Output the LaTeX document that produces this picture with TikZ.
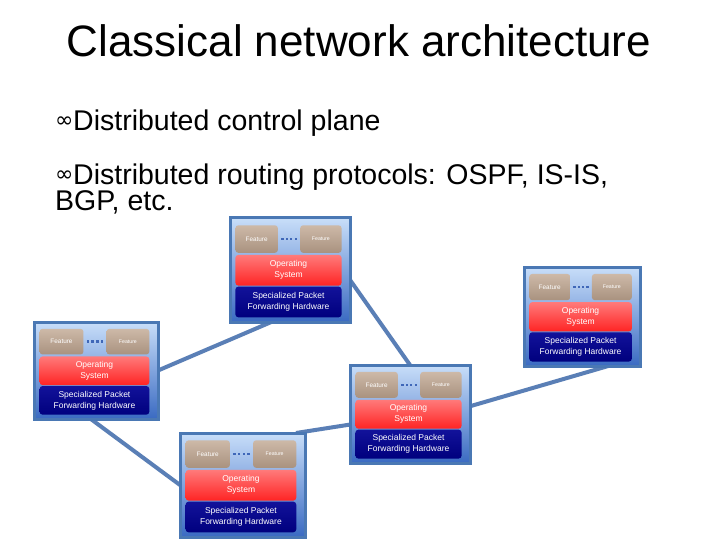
\documentclass[tikz,border=0pt]{standalone}
\usepackage{fontspec}
\setmainfont{Liberation Sans}
\newfontfamily\symf{DejaVu Sans}
\usetikzlibrary{shadows,calc,backgrounds}
\definecolor{linkc}{HTML}{5A7FB6}
\definecolor{rborder}{HTML}{4A78B4}
\definecolor{rtop}{HTML}{C8DEF9}
\definecolor{rmid}{HTML}{6EA4EE}
\definecolor{rbot}{HTML}{3A6AC2}
\definecolor{ftop}{HTML}{CDB9A8}
\definecolor{fbot}{HTML}{A9927F}
\definecolor{otop}{HTML}{FF7A7A}
\definecolor{obot}{HTML}{FF2424}
\definecolor{hwtop}{HTML}{12129A}
\definecolor{hwbot}{HTML}{00007E}
\definecolor{dotc}{HTML}{3F67B8}
\pgfdeclarelayer{back0}
\pgfsetlayers{back0,background,main}
\tikzset{
  rbox/.style={draw=rborder, line width=3pt, top color=rtop, middle color=rmid, bottom color=rbot, inner sep=0pt, outer sep=0pt,
    drop shadow={shadow xshift=2pt, shadow yshift=-2pt, fill=black, opacity=.25}},
  featbox/.style={rounded corners=3pt, top color=ftop, bottom color=fbot},
  osbox/.style={rounded corners=3pt, top color=otop, bottom color=obot},
  hwbox/.style={rounded corners=3pt, top color=hwtop, bottom color=hwbot},
  lbl/.style={text=white, font=\fontsize{8.5}{11}\selectfont, align=center, inner sep=0pt},
  flbl/.style={text=white, font=\fontsize{6.4}{7}\selectfont, inner sep=0pt},
  flblb/.style={text=white, font=\fontsize{5.2}{6}\selectfont, inner sep=0pt},
  link/.style={draw=linkc, line width=4pt},
  titletxt/.style={font=\fontsize{44}{50}\selectfont, anchor=base, inner sep=0pt},
  bultxt/.style={font=\fontsize{28.5}{32}\selectfont, anchor=base west, inner sep=0pt},
  bulsym/.style={font=\symf\fontsize{22}{24}\selectfont, anchor=base west, inner sep=0pt},
}
\newcommand\router[5]{%
  \pgfmathsetmacro\rw{#4-#2}%
  \pgfmathsetmacro\rh{#5-#3}%
  \node[rbox, minimum width=\rw pt, minimum height=\rh pt] (#1) at ({(#2+#4)/2},{(#3+#5)/2}) {};
  \pgfmathsetmacro\il{#2+0.045*\rw}%
  \pgfmathsetmacro\ir{#4-0.07*\rw}%
  \pgfmathsetmacro\fl{\il+0.40*(\ir-\il)}%
  \pgfmathsetmacro\fr{\ir-0.39*(\ir-\il)}%
  \pgfmathsetmacro\fa{#3+0.07*\rh}%
  \pgfmathsetmacro\fb{#3+0.335*\rh}%
  \pgfmathsetmacro\oa{#3+0.355*\rh}%
  \pgfmathsetmacro\ob{#3+0.65*\rh}%
  \pgfmathsetmacro\ha{#3+0.66*\rh}%
  \pgfmathsetmacro\hb{#3+0.955*\rh}%
  \path[featbox] (\il,\fa) rectangle (\fl,\fb);
  \path[featbox] (\fr,\fa) rectangle (\ir,\fb);
  \path[osbox] (\il,\oa) rectangle (\ir,\ob);
  \path[hwbox] (\il,\ha) rectangle (\ir,\hb);
  \foreach \k in {1,...,4}{\fill[dotc] ({\fl+\k*(\fr-\fl)/5-1.2},{(\fa+\fb)/2-1.2}) rectangle ++(2.4,2.4);}
  \node[flbl] (#1-f1) at ({(\il+\fl)/2},{(\fa+\fb)/2}) {Feature};
  \node[flblb] (#1-f2) at ({(\fr+\ir)/2},{(\fa+\fb)/2}) {Feature};
  \node[lbl] (#1-os) at ({(\il+\ir)/2},{(\oa+\ob)/2}) {Operating\\System};
  \node[lbl] (#1-hw) at ({(\il+\ir)/2},{(\ha+\hb)/2}) {Specialized Packet\\Forwarding Hardware};
}
\begin{document}
\begin{tikzpicture}[x=1pt,y=-1pt]
\begin{pgfonlayer}{back0}
\fill[white] (0,0) rectangle (720,540);
\end{pgfonlayer}
\path[use as bounding box] (0,0) rectangle (720,540);
\node[titletxt] (title) at (359,57) {Classical network architecture};
\node[bulsym] (b1) at (55,128) {∞};
\node[bultxt] (t1) at (73,131) {Distributed control plane};
\node[bulsym] (b2) at (55,182) {∞};
\node[bultxt] (t2) at (73,185) {Distributed routing protocols: OSPF, IS-IS,};
\node[bultxt] (t3) at (55,211) {BGP, etc.};
\router{r1}{230}{218}{350}{322}
\router{r2}{524}{267}{640}{366}
\router{r3}{34}{322}{158}{419}
\router{r4}{350}{365}{470}{463}
\router{r5}{180}{433}{305}{537}
\begin{scope}[on background layer]
\draw[link] (r3.east) -- ($(r1.south)+(0,-8)$);
\draw[link] ($(r1.east)+(-7,0)$) -- (r4.north);
\draw[link] ($(r4.east)+(-30,1)$) -- ($(r2.south)+(40,-4)$);
\draw[link] ($(r3.south)+(-16,-8)$) -- (r5.west);
\draw[link] ($(r5.north east)+(-9,0)$) -- ($(r4.west)+(10,9)$);
\end{scope}
\end{tikzpicture}
\end{document}
